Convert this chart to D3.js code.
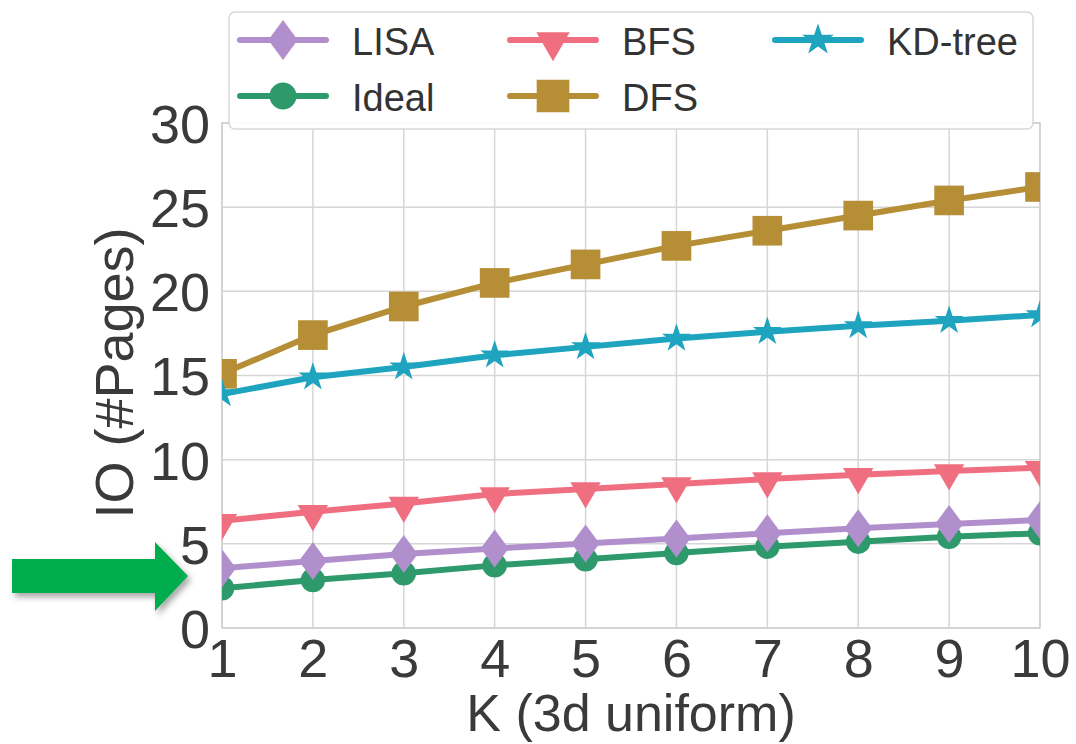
<!DOCTYPE html>
<html>
<head>
<meta charset="utf-8">
<script src="https://cdn.jsdelivr.net/npm/d3@7/dist/d3.min.js"></script>
<style>
  html, body { margin: 0; padding: 0; background: #fff; }
  svg { display: block; font-family: "Liberation Sans", Arial, sans-serif; }
</style>
</head>
<body>
<svg id="chart" width="1076" height="744"></svg>
<script>
// K values on the x axis
const kValues = [1, 2, 3, 4, 5, 6, 7, 8, 9, 10];

// IO cost (#pages) per method
const lisa   = [3.55, 3.98, 4.40, 4.72, 5.02, 5.32, 5.63, 5.92, 6.18, 6.42];
const ideal  = [2.36, 2.85, 3.25, 3.72, 4.08, 4.45, 4.83, 5.13, 5.42, 5.63];
const bfs    = [6.37, 6.90, 7.40, 7.96, 8.26, 8.56, 8.85, 9.10, 9.33, 9.52];
const dfs    = [15.1, 17.4, 19.1, 20.5, 21.6, 22.7, 23.6, 24.5, 25.4, 26.2];
const kdtree = [13.9, 14.9, 15.5, 16.2, 16.7, 17.2, 17.6, 17.95, 18.25, 18.6];

const yTicks = [0, 5, 10, 15, 20, 25, 30];
const xLabel = "K (3d uniform)";
const yLabel = "IO (#Pages)";

// Drawing order: Ideal below LISA so the diamonds sit on top
const seriesList = [
  { name: "Ideal",   values: ideal,  color: "#2e9a6b", marker: "circle" },
  { name: "LISA",    values: lisa,   color: "#b18fcc", marker: "diamond" },
  { name: "BFS",     values: bfs,    color: "#ef6f80", marker: "triangleDown" },
  { name: "DFS",     values: dfs,    color: "#b68e35", marker: "square" },
  { name: "KD-tree", values: kdtree, color: "#1ea4bf", marker: "star" }
];
// Legend is filled column by column
const legendOrder = ["LISA", "Ideal", "BFS", "DFS", "KD-tree"];

const svg = d3.select("#chart");
const plot = { left: 222, right: 1040, top: 123, bottom: 628 };

const x = d3.scaleLinear().domain([1, 10]).range([plot.left, plot.right]);
const y = d3.scaleLinear().domain([0, 30]).range([plot.bottom, plot.top]);

const markerPath = {
  circle: d3.symbol().type(d3.symbolCircle).size(470)(),
  square: d3.symbol().type(d3.symbolSquare).size(880)(),
  star: d3.symbol().type(d3.symbolStar).size(260)(),
  triangleDown: d3.symbol().type(d3.symbolTriangle).size(400)(),
  diamond: "M0,-19L14,0L0,19L-14,0Z"
};
function markerTransform(m, px, py, scale) {
  const s = scale || 1;
  if (m === "triangleDown") return `translate(${px},${py + 2}) rotate(180) scale(${s})`;
  return `translate(${px},${py}) scale(${s})`;
}

// Drop shadow for the pointer arrow, and the plot-area clip
const defs = svg.append("defs");
const shadow = defs.append("filter").attr("id", "arrowShadow")
  .attr("x", "-20%").attr("y", "-30%").attr("width", "140%").attr("height", "170%");
shadow.append("feDropShadow").attr("dx", 3).attr("dy", 4)
  .attr("stdDeviation", 3).attr("flood-color", "#000").attr("flood-opacity", 0.35);
defs.append("clipPath").attr("id", "plotClip").append("rect")
  .attr("x", plot.left).attr("y", plot.top)
  .attr("width", plot.right - plot.left).attr("height", plot.bottom - plot.top);

// Grid lines
const grid = svg.append("g");
grid.selectAll("line.h").data(yTicks).join("line")
  .attr("x1", plot.left).attr("x2", plot.right)
  .attr("y1", d => y(d)).attr("y2", d => y(d))
  .attr("stroke", "#d6d6d6").attr("stroke-width", 1.5);
grid.selectAll("line.v").data(kValues).join("line")
  .attr("x1", d => x(d)).attr("x2", d => x(d))
  .attr("y1", plot.top).attr("y2", plot.bottom)
  .attr("stroke", "#d6d6d6").attr("stroke-width", 1.5);
// Frame
svg.append("rect")
  .attr("x", plot.left).attr("y", plot.top)
  .attr("width", plot.right - plot.left).attr("height", plot.bottom - plot.top)
  .attr("fill", "none").attr("stroke", "#cfcfcf").attr("stroke-width", 1.5);

// Axes
const xAxis = svg.append("g").attr("transform", `translate(0,${plot.bottom})`)
  .call(d3.axisBottom(x).tickValues(kValues).tickFormat(d3.format("d")).tickSize(0));
xAxis.select(".domain").remove();
xAxis.selectAll("text").attr("y", 49).attr("dy", 0)
  .attr("font-size", 54).attr("fill", "#3a3a3a")
  .attr("font-family", "Liberation Sans, Arial, sans-serif");

const yAxis = svg.append("g").attr("transform", `translate(${plot.left},0)`)
  .call(d3.axisLeft(y).tickValues(yTicks).tickSize(0));
yAxis.select(".domain").remove();
yAxis.selectAll("text").attr("x", -12).attr("dy", "0.36em")
  .attr("font-size", 54).attr("fill", "#3a3a3a")
  .attr("font-family", "Liberation Sans, Arial, sans-serif");

svg.append("text")
  .attr("x", (plot.left + plot.right) / 2).attr("y", 731)
  .attr("text-anchor", "middle").attr("font-size", 52).attr("fill", "#3a3a3a")
  .text(xLabel);
svg.append("text")
  .attr("transform", "translate(133,373) rotate(-90)")
  .attr("text-anchor", "middle").attr("font-size", 54).attr("fill", "#3a3a3a")
  .text(yLabel);

// Series lines and markers
const lineGen = d3.line().x((d, i) => x(kValues[i])).y(d => y(d));
const dataLayer = svg.append("g").attr("clip-path", "url(#plotClip)");
seriesList.forEach(s => {
  const g = dataLayer.append("g");
  g.append("path").attr("d", lineGen(s.values))
    .attr("fill", "none").attr("stroke", s.color).attr("stroke-width", 6)
    .attr("stroke-linejoin", "round");
  g.selectAll("path.m").data(s.values).join("path").attr("class", "m")
    .attr("d", markerPath[s.marker])
    .attr("transform", (d, i) => markerTransform(s.marker, x(kValues[i]), y(d)))
    .attr("fill", s.color);
});

// Legend
const legend = svg.append("g");
legend.append("rect")
  .attr("x", 229).attr("y", 12).attr("width", 804).attr("height", 117)
  .attr("rx", 6).attr("fill", "#fff").attr("fill-opacity", 0.9)
  .attr("stroke", "#d8d8d8").attr("stroke-width", 1.5);
const colX = [240, 510, 775];
const rowY = [40, 96];
legendOrder.forEach((name, idx) => {
  const s = seriesList.find(d => d.name === name);
  const cx = colX[Math.floor(idx / 2)];
  const cy = rowY[idx % 2];
  const g = legend.append("g");
  g.append("line").attr("x1", cx).attr("x2", cx + 86)
    .attr("y1", cy).attr("y2", cy)
    .attr("stroke", s.color).attr("stroke-width", 6).attr("stroke-linecap", "round");
  g.append("path").attr("d", markerPath[s.marker])
    .attr("transform", markerTransform(s.marker, cx + 43, cy, s.marker === "diamond" ? 1.05 : 1.1))
    .attr("fill", s.color);
  g.append("text").attr("x", cx + 112).attr("y", cy + 2).attr("dy", "0.35em")
    .attr("font-size", 38).attr("fill", "#333").text(name);
});

// Pointer arrow on the left
const arrowPts = [[12, 559], [155, 559], [155, 542], [188, 576], [155, 611], [155, 593], [12, 593]];
svg.append("path")
  .attr("d", d3.line()(arrowPts) + "Z")
  .attr("fill", "#00ad4e").attr("filter", "url(#arrowShadow)");
</script>
</body>
</html>
